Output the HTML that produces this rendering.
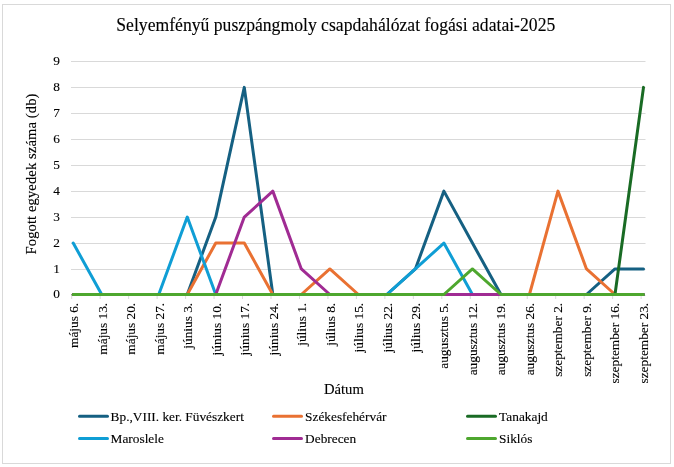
<!DOCTYPE html>
<html lang="hu"><head><meta charset="utf-8"><title>Selyemfényű puszpángmoly csapdahálózat fogási adatai-2025</title>
<style>html,body{margin:0;padding:0;background:#fff;}svg{display:block;}text{stroke:#000;stroke-width:0.12px;}</style></head>
<body>
<svg width="674" height="467" viewBox="0 0 674 467" font-family="'Liberation Serif', 'Times New Roman', serif" fill="#000">
<rect x="0" y="0" width="674" height="467" fill="#fff"/>
<rect x="2.5" y="4.5" width="668" height="459" fill="#fff" stroke="#D9D9D9" stroke-width="1"/>
<line x1="71" x2="645.5" y1="269.5" y2="269.5" stroke="#D9D9D9" stroke-width="1"/>
<line x1="71" x2="645.5" y1="243.5" y2="243.5" stroke="#D9D9D9" stroke-width="1"/>
<line x1="71" x2="645.5" y1="217.5" y2="217.5" stroke="#D9D9D9" stroke-width="1"/>
<line x1="71" x2="645.5" y1="191.5" y2="191.5" stroke="#D9D9D9" stroke-width="1"/>
<line x1="71" x2="645.5" y1="165.5" y2="165.5" stroke="#D9D9D9" stroke-width="1"/>
<line x1="71" x2="645.5" y1="139.5" y2="139.5" stroke="#D9D9D9" stroke-width="1"/>
<line x1="71" x2="645.5" y1="113.5" y2="113.5" stroke="#D9D9D9" stroke-width="1"/>
<line x1="71" x2="645.5" y1="87.5" y2="87.5" stroke="#D9D9D9" stroke-width="1"/>
<line x1="71" x2="645.5" y1="61.5" y2="61.5" stroke="#D9D9D9" stroke-width="1"/>
<line x1="71" x2="645.5" y1="295.5" y2="295.5" stroke="#D9D9D9" stroke-width="1"/>
<line x1="71.7" x2="71.7" y1="295" y2="299" stroke="#D9D9D9" stroke-width="1"/>
<line x1="100.17" x2="100.17" y1="295" y2="299" stroke="#D9D9D9" stroke-width="1"/>
<line x1="128.64" x2="128.64" y1="295" y2="299" stroke="#D9D9D9" stroke-width="1"/>
<line x1="157.11" x2="157.11" y1="295" y2="299" stroke="#D9D9D9" stroke-width="1"/>
<line x1="185.57999999999998" x2="185.57999999999998" y1="295" y2="299" stroke="#D9D9D9" stroke-width="1"/>
<line x1="214.05" x2="214.05" y1="295" y2="299" stroke="#D9D9D9" stroke-width="1"/>
<line x1="242.51999999999998" x2="242.51999999999998" y1="295" y2="299" stroke="#D9D9D9" stroke-width="1"/>
<line x1="270.99" x2="270.99" y1="295" y2="299" stroke="#D9D9D9" stroke-width="1"/>
<line x1="299.46" x2="299.46" y1="295" y2="299" stroke="#D9D9D9" stroke-width="1"/>
<line x1="327.93" x2="327.93" y1="295" y2="299" stroke="#D9D9D9" stroke-width="1"/>
<line x1="356.4" x2="356.4" y1="295" y2="299" stroke="#D9D9D9" stroke-width="1"/>
<line x1="384.86999999999995" x2="384.86999999999995" y1="295" y2="299" stroke="#D9D9D9" stroke-width="1"/>
<line x1="413.34" x2="413.34" y1="295" y2="299" stroke="#D9D9D9" stroke-width="1"/>
<line x1="441.81" x2="441.81" y1="295" y2="299" stroke="#D9D9D9" stroke-width="1"/>
<line x1="470.28" x2="470.28" y1="295" y2="299" stroke="#D9D9D9" stroke-width="1"/>
<line x1="498.74999999999994" x2="498.74999999999994" y1="295" y2="299" stroke="#D9D9D9" stroke-width="1"/>
<line x1="527.22" x2="527.22" y1="295" y2="299" stroke="#D9D9D9" stroke-width="1"/>
<line x1="555.69" x2="555.69" y1="295" y2="299" stroke="#D9D9D9" stroke-width="1"/>
<line x1="584.1600000000001" x2="584.1600000000001" y1="295" y2="299" stroke="#D9D9D9" stroke-width="1"/>
<line x1="612.63" x2="612.63" y1="295" y2="299" stroke="#D9D9D9" stroke-width="1"/>
<line x1="641.1" x2="641.1" y1="295" y2="299" stroke="#D9D9D9" stroke-width="1"/>
<text x="60" y="298.10" font-size="13.33" text-anchor="end">0</text>
<text x="60" y="272.56" font-size="13.33" text-anchor="end">1</text>
<text x="60" y="246.62" font-size="13.33" text-anchor="end">2</text>
<text x="60" y="220.68" font-size="13.33" text-anchor="end">3</text>
<text x="60" y="194.74" font-size="13.33" text-anchor="end">4</text>
<text x="60" y="168.80" font-size="13.33" text-anchor="end">5</text>
<text x="60" y="142.86" font-size="13.33" text-anchor="end">6</text>
<text x="60" y="116.92" font-size="13.33" text-anchor="end">7</text>
<text x="60" y="90.98" font-size="13.33" text-anchor="end">8</text>
<text x="60" y="65.04" font-size="13.33" text-anchor="end">9</text>
<polyline points="73.20,294.50 101.72,294.50 130.23,294.50 158.75,294.50 187.26,294.50 215.77,217.08 244.29,87.38 272.81,294.50 301.32,294.50 329.83,294.50 358.35,294.50 386.87,294.50 415.38,268.96 443.89,191.14 472.41,243.02 500.93,294.50 529.44,294.50 557.96,294.50 586.47,294.50 614.99,268.96 643.50,268.96" fill="none" stroke="#156082" stroke-width="3" stroke-linecap="round" stroke-linejoin="round"/>
<polyline points="73.20,294.50 101.72,294.50 130.23,294.50 158.75,294.50 187.26,294.50 215.77,243.02 244.29,243.02 272.81,294.50 301.32,294.50 329.83,268.96 358.35,294.50 386.87,294.50 415.38,294.50 443.89,294.50 472.41,294.50 500.93,294.50 529.44,294.50 557.96,191.14 586.47,268.96 614.99,294.50 643.50,294.50" fill="none" stroke="#E97132" stroke-width="3" stroke-linecap="round" stroke-linejoin="round"/>
<polyline points="73.20,294.50 101.72,294.50 130.23,294.50 158.75,294.50 187.26,294.50 215.77,294.50 244.29,294.50 272.81,294.50 301.32,294.50 329.83,294.50 358.35,294.50 386.87,294.50 415.38,294.50 443.89,294.50 472.41,294.50 500.93,294.50 529.44,294.50 557.96,294.50 586.47,294.50 614.99,294.50 643.50,87.38" fill="none" stroke="#196B24" stroke-width="3" stroke-linecap="round" stroke-linejoin="round"/>
<polyline points="73.20,243.02 101.72,294.50 130.23,294.50 158.75,294.50 187.26,217.08 215.77,294.50 244.29,294.50 272.81,294.50 301.32,294.50 329.83,294.50 358.35,294.50 386.87,294.50 415.38,268.96 443.89,243.02 472.41,294.50 500.93,294.50 529.44,294.50 557.96,294.50 586.47,294.50 614.99,294.50 643.50,294.50" fill="none" stroke="#0F9ED5" stroke-width="3" stroke-linecap="round" stroke-linejoin="round"/>
<polyline points="73.20,294.50 101.72,294.50 130.23,294.50 158.75,294.50 187.26,294.50 215.77,294.50 244.29,217.08 272.81,191.14 301.32,268.96 329.83,294.50 358.35,294.50 386.87,294.50 415.38,294.50 443.89,294.50 472.41,294.50 500.93,294.50 529.44,294.50 557.96,294.50 586.47,294.50 614.99,294.50 643.50,294.50" fill="none" stroke="#A02B93" stroke-width="3" stroke-linecap="round" stroke-linejoin="round"/>
<polyline points="73.20,294.50 101.72,294.50 130.23,294.50 158.75,294.50 187.26,294.50 215.77,294.50 244.29,294.50 272.81,294.50 301.32,294.50 329.83,294.50 358.35,294.50 386.87,294.50 415.38,294.50 443.89,294.50 472.41,268.96 500.93,294.50 529.44,294.50 557.96,294.50 586.47,294.50 614.99,294.50 643.50,294.50" fill="none" stroke="#4EA72E" stroke-width="3" stroke-linecap="round" stroke-linejoin="round"/>
<text transform="translate(78.30,302.8) rotate(-90)" font-size="13.33" text-anchor="end">május 6.</text>
<text transform="translate(106.78,302.8) rotate(-90)" font-size="13.33" text-anchor="end">május 13.</text>
<text transform="translate(135.25,302.8) rotate(-90)" font-size="13.33" text-anchor="end">május 20.</text>
<text transform="translate(163.73,302.8) rotate(-90)" font-size="13.33" text-anchor="end">május 27.</text>
<text transform="translate(192.20,302.8) rotate(-90)" font-size="13.33" text-anchor="end">június 3.</text>
<text transform="translate(220.68,302.8) rotate(-90)" font-size="13.33" text-anchor="end">június 10.</text>
<text transform="translate(249.15,302.8) rotate(-90)" font-size="13.33" text-anchor="end">június 17.</text>
<text transform="translate(277.62,302.8) rotate(-90)" font-size="13.33" text-anchor="end">június 24.</text>
<text transform="translate(306.10,302.8) rotate(-90)" font-size="13.33" text-anchor="end">július 1.</text>
<text transform="translate(334.58,302.8) rotate(-90)" font-size="13.33" text-anchor="end">július 8.</text>
<text transform="translate(363.05,302.8) rotate(-90)" font-size="13.33" text-anchor="end">július 15.</text>
<text transform="translate(391.53,302.8) rotate(-90)" font-size="13.33" text-anchor="end">július 22.</text>
<text transform="translate(420.00,302.8) rotate(-90)" font-size="13.33" text-anchor="end">július 29.</text>
<text transform="translate(448.48,302.8) rotate(-90)" font-size="13.33" text-anchor="end">augusztus 5.</text>
<text transform="translate(476.95,302.8) rotate(-90)" font-size="13.33" text-anchor="end">augusztus 12.</text>
<text transform="translate(505.43,302.8) rotate(-90)" font-size="13.33" text-anchor="end">augusztus 19.</text>
<text transform="translate(533.90,302.8) rotate(-90)" font-size="13.33" text-anchor="end">augusztus 26.</text>
<text transform="translate(562.38,302.8) rotate(-90)" font-size="13.33" text-anchor="end">szeptember 2.</text>
<text transform="translate(590.85,302.8) rotate(-90)" font-size="13.33" text-anchor="end">szeptember 9.</text>
<text transform="translate(619.32,302.8) rotate(-90)" font-size="13.33" text-anchor="end">szeptember 16.</text>
<text transform="translate(647.80,302.8) rotate(-90)" font-size="13.33" text-anchor="end">szeptember 23.</text>
<text x="116.3" y="30.8" font-size="18.2" textLength="439" lengthAdjust="spacingAndGlyphs">Selyemfényű puszpángmoly csapdahálózat fogási adatai-2025</text>
<text x="343.9" y="394.1" font-size="14.67" text-anchor="middle">Dátum</text>
<text transform="translate(36,174.0) rotate(-90)" font-size="14.67" text-anchor="middle" textLength="161" lengthAdjust="spacing">Fogott egyedek száma (db)</text>
<line x1="79.5" x2="107.5" y1="416.3" y2="416.3" stroke="#156082" stroke-width="3" stroke-linecap="round"/>
<text x="110.60" y="420.7" font-size="13.33">Bp.,VIII. ker. Füvészkert</text>
<line x1="273.5" x2="301.5" y1="416.3" y2="416.3" stroke="#E97132" stroke-width="3" stroke-linecap="round"/>
<text x="305.10" y="420.7" font-size="13.33">Székesfehérvár</text>
<line x1="467.5" x2="495.5" y1="416.3" y2="416.3" stroke="#196B24" stroke-width="3" stroke-linecap="round"/>
<text x="499.10" y="420.7" font-size="13.33">Tanakajd</text>
<line x1="79.5" x2="107.5" y1="438.5" y2="438.5" stroke="#0F9ED5" stroke-width="3" stroke-linecap="round"/>
<text x="110.60" y="442.9" font-size="13.33">Maroslele</text>
<line x1="273.5" x2="301.5" y1="438.5" y2="438.5" stroke="#A02B93" stroke-width="3" stroke-linecap="round"/>
<text x="305.10" y="442.9" font-size="13.33">Debrecen</text>
<line x1="467.5" x2="495.5" y1="438.5" y2="438.5" stroke="#4EA72E" stroke-width="3" stroke-linecap="round"/>
<text x="499.10" y="442.9" font-size="13.33">Siklós</text>
</svg>
</body></html>
